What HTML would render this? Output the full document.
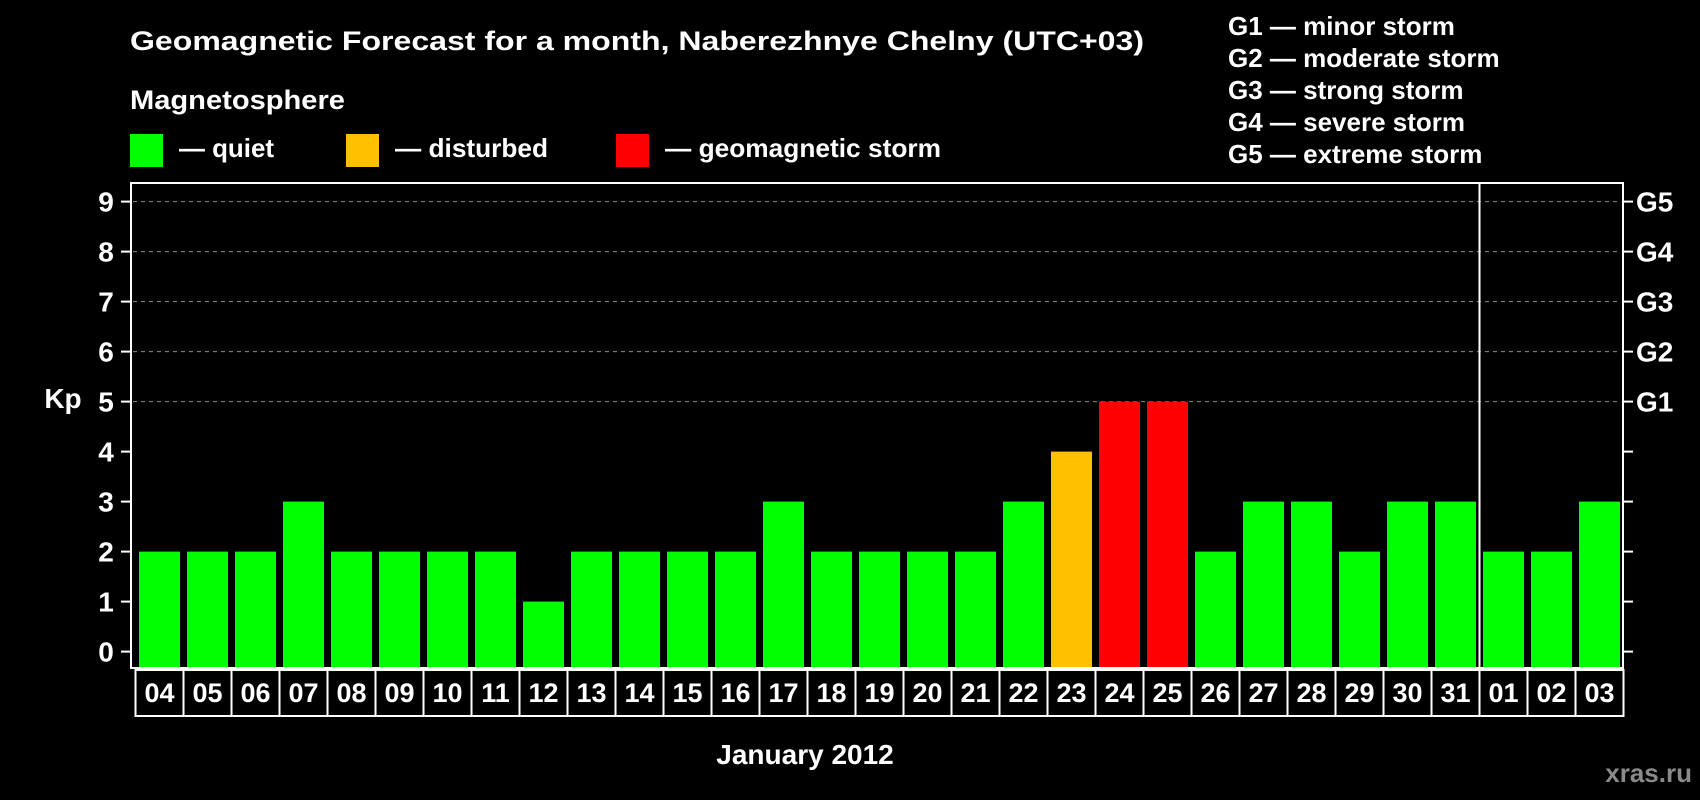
<!DOCTYPE html>
<html><head><meta charset="utf-8"><style>
html,body{margin:0;padding:0;background:#000;}
svg{display:block;font-family:"Liberation Sans",Arial,sans-serif;font-weight:bold;}
</style></head><body>
<svg id="chart" width="1700" height="800" viewBox="0 0 1700 800">
<rect x="0" y="0" width="1700" height="800" fill="#000"/>
<text x="130" y="50" font-size="27" fill="#fff" textLength="1014" lengthAdjust="spacingAndGlyphs">Geomagnetic Forecast for a month, Naberezhnye Chelny (UTC+03)</text>
<text x="130" y="109" font-size="27" fill="#fff" textLength="215" lengthAdjust="spacingAndGlyphs">Magnetosphere</text>
<g>
<rect x="130" y="134" width="33" height="33" fill="#00ff00"/>
<text x="179" y="157" font-size="26" fill="#fff" textLength="95" lengthAdjust="spacingAndGlyphs">— quiet</text>
</g>
<g>
<rect x="346" y="134" width="33" height="33" fill="#ffc000"/>
<text x="395" y="157" font-size="26" fill="#fff" textLength="153" lengthAdjust="spacingAndGlyphs">— disturbed</text>
</g>
<g>
<rect x="616" y="134" width="33" height="33" fill="#ff0000"/>
<text x="665" y="157" font-size="26" fill="#fff" textLength="276" lengthAdjust="spacingAndGlyphs">— geomagnetic storm</text>
</g>
<g font-size="26" fill="#fff">
<text x="1228" y="35">G1 — minor storm</text>
<text x="1228" y="67">G2 — moderate storm</text>
<text x="1228" y="99">G3 — strong storm</text>
<text x="1228" y="131">G4 — severe storm</text>
<text x="1228" y="163">G5 — extreme storm</text>
</g>
<g id="plot"></g>
<text x="63" y="408" font-size="28" fill="#fff" text-anchor="middle">Kp</text>
<text x="805" y="764" font-size="28" fill="#fff" text-anchor="middle">January 2012</text>
<text x="1692" y="782" font-size="26" fill="#8a8a8a" text-anchor="end">xras.ru</text>
</svg>
<script>
const days = ["04","05","06","07","08","09","10","11","12","13","14","15","16","17","18","19","20","21","22","23","24","25","26","27","28","29","30","31","01","02","03"];
const kpValues = [2,2,2,3,2,2,2,2,1,2,2,2,2,3,2,2,2,2,3,4,5,5,2,3,3,2,3,3,2,2,3];
const yTicks = [0,1,2,3,4,5,6,7,8,9];
const gLabels = ["G1","G2","G3","G4","G5"];
const gLevels = [5,6,7,8,9];
const monthBreakIndex = 28;

(function(){
const NS = "http://www.w3.org/2000/svg";
const plot = document.getElementById("plot");
const pLeft = 131, pRight = 1623, pTop = 183, pBottom = 668;
const y0 = 651.6, unit = 50;
const firstBar = 139, pitch = 48, barW = 41;
function yScale(v){ return y0 - v*unit; }
function xScale(i){ return firstBar + i*pitch; }
function mk(tag, attrs){ const e = document.createElementNS(NS, tag); for (const k in attrs) e.setAttribute(k, attrs[k]); plot.appendChild(e); return e; }
function color(v){ return v >= 5 ? "#ff0000" : (v >= 4 ? "#ffc000" : "#00ff00"); }

gLevels.forEach(v => {
  const l = mk("line", {x1:pLeft+2, x2:pRight-2, y1:yScale(v), y2:yScale(v), stroke:"#8c8c8c", "stroke-width":1, "stroke-dasharray":"4,4"});
  
  
});
kpValues.forEach((v, i) => {
  const yt = yScale(v);
  const r = mk("rect", {x:xScale(i), y:yt, width:barW, height:pBottom - yt, fill:color(v)});
  
  
});
const fr = mk("rect", {x:pLeft, y:pTop, width:pRight-pLeft, height:pBottom-pTop, fill:"none", stroke:"#fff", "stroke-width":2});


const sepX = xScale(monthBreakIndex) - 3.5;
const sep = mk("line", {x1:sepX, x2:sepX, y1:pTop, y2:pBottom, stroke:"#fff", "stroke-width":2});


yTicks.forEach(v => {
  const y = yScale(v);
  const t = mk("line", {x1:121, x2:pLeft, y1:y, y2:y, stroke:"#fff", "stroke-width":2});
  
  
  const tr = mk("line", {x1:pRight, x2:1633, y1:y, y2:y, stroke:"#fff", "stroke-width":2});
  
  
  const lb = mk("text", {x:106, y:y+10, "font-size":28, fill:"#fff", "text-anchor":"middle"});
  lb.textContent = String(v);
  
  
});
gLabels.forEach((g, i) => {
  const lb = mk("text", {x:1636, y:yScale(gLevels[i])+10, "font-size":28, fill:"#fff"});
  lb.textContent = g;
  
  
});
const boxTop = 670, boxBot = 716;
days.forEach((d, i) => {
  const bx = xScale(i) - 3.5;
  const b = mk("rect", {x:bx, y:boxTop, width:pitch, height:boxBot-boxTop, fill:"#000", stroke:"#fff", "stroke-width":2});
  
  
  const t = mk("text", {x:bx + pitch/2, y:702, "font-size":27, fill:"#fff", "text-anchor":"middle"});
  t.textContent = d;
  
  
});
})();
</script>
</body></html>
